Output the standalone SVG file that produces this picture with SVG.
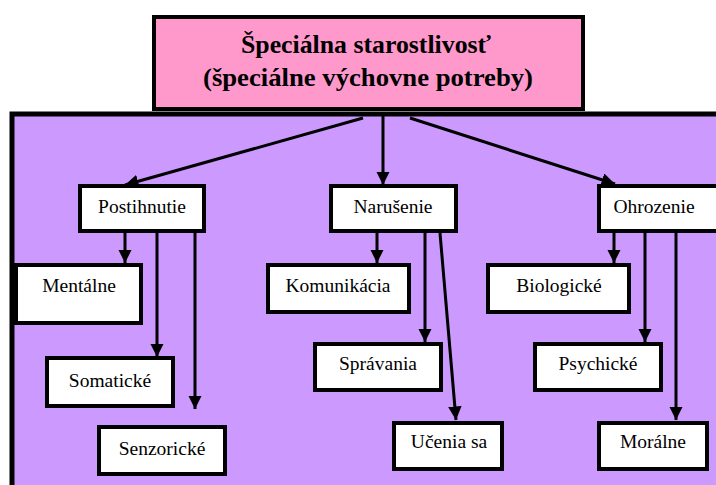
<svg xmlns="http://www.w3.org/2000/svg" width="716" height="485" viewBox="0 0 716 485">
<defs>
<marker id="ah" viewBox="0 0 10 10" refX="10" refY="5" markerWidth="4.5" markerHeight="4.5" markerUnits="strokeWidth" orient="auto">
<path d="M0,0 L10,5 L0,10 z" fill="#000"/>
</marker>
<style>
.box{fill:#fff;stroke:#000;stroke-width:4}
.lbl{font-family:'Liberation Serif',serif;font-size:19.5px;fill:#000;text-anchor:middle}
.ttl{font-family:'Liberation Serif',serif;font-size:26px;font-weight:bold;fill:#000;text-anchor:middle}
.c{stroke:#000;stroke-width:3;fill:none;marker-end:url(#ah)}
</style>
</defs>
<rect x="0" y="0" width="716" height="485" fill="#fff"/>
<g id="panel">
<rect x="12" y="114" width="710" height="380" fill="#CC99FF" stroke="#000" stroke-width="5"/>
</g>
<g id="root">
<rect x="154" y="17" width="429" height="92" fill="#FF99CC" stroke="#000" stroke-width="4"/>
<text class="ttl" x="366" y="53" textLength="250" lengthAdjust="spacingAndGlyphs">Špeciálna starostlivosť</text>
<text class="ttl" x="368" y="86" textLength="330" lengthAdjust="spacingAndGlyphs">(špeciálne výchovne potreby)</text>
</g>
<g id="connectors">
<line class="c" x1="363" y1="118" x2="125" y2="185"/>
<line class="c" x1="383" y1="114" x2="383" y2="185"/>
<line class="c" x1="410" y1="118" x2="615" y2="184"/>
<line class="c" x1="125" y1="233" x2="125" y2="263"/>
<line class="c" x1="157" y1="233" x2="157" y2="357"/>
<line class="c" x1="195" y1="229" x2="195" y2="409"/>
<line class="c" x1="377" y1="233" x2="377" y2="263"/>
<line class="c" x1="425" y1="233" x2="425" y2="342"/>
<line class="c" x1="440" y1="233" x2="456" y2="420"/>
<line class="c" x1="614" y1="233" x2="614" y2="263"/>
<line class="c" x1="645" y1="233" x2="645" y2="342"/>
<line class="c" x1="676" y1="233" x2="676" y2="420"/>
</g>
<g id="postihnutie"><rect class="box" x="80" y="186" width="124" height="45"/><text class="lbl" x="142" y="213">Postihnutie</text></g>
<g id="narusenie"><rect class="box" x="331" y="186" width="125" height="45"/><text class="lbl" x="393" y="213">Narušenie</text></g>
<g id="ohrozenie"><rect class="box" x="599" y="186" width="125" height="45"/><text class="lbl" x="654" y="213">Ohrozenie</text></g>
<g id="mentalne"><rect class="box" x="16" y="265" width="125" height="58"/><text class="lbl" x="79" y="292">Mentálne</text></g>
<g id="somaticke"><rect class="box" x="47" y="358" width="126" height="48"/><text class="lbl" x="110" y="387">Somatické</text></g>
<g id="senzoricke"><rect class="box" x="99" y="427" width="126" height="47"/><text class="lbl" x="162" y="455">Senzorické</text></g>
<g id="komunikacia"><rect class="box" x="268" y="265" width="141" height="47"/><text class="lbl" x="338" y="292">Komunikácia</text></g>
<g id="spravania"><rect class="box" x="315" y="344" width="126" height="46"/><text class="lbl" x="378" y="370">Správania</text></g>
<g id="ucenia"><rect class="box" x="394" y="423" width="108" height="46"/><text class="lbl" x="449" y="448">Učenia sa</text></g>
<g id="biologicke"><rect class="box" x="488" y="265" width="141" height="47"/><text class="lbl" x="559" y="292">Biologické</text></g>
<g id="psychicke"><rect class="box" x="535" y="344" width="126" height="46"/><text class="lbl" x="598" y="370">Psychické</text></g>
<g id="moralne"><rect class="box" x="599" y="423" width="108" height="46"/><text class="lbl" x="653" y="448">Morálne</text></g>
</svg>
